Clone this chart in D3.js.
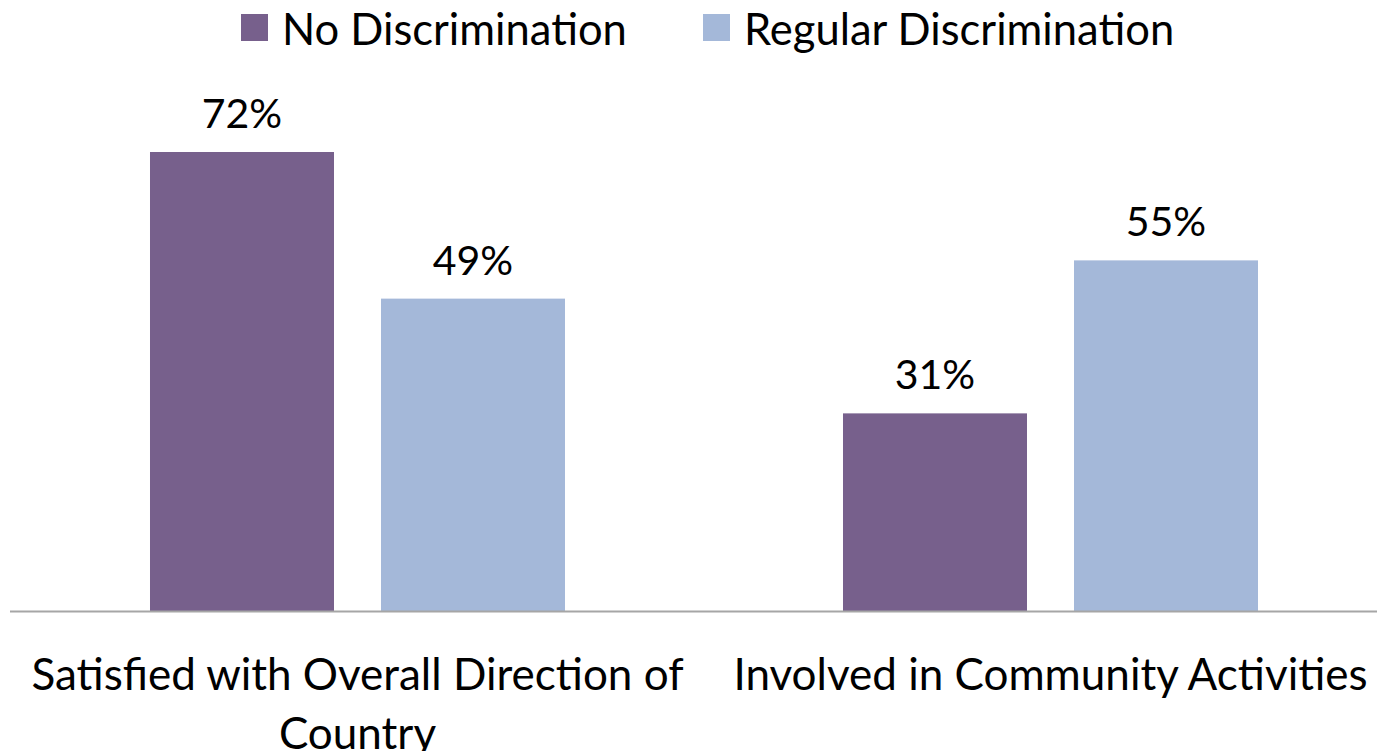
<!doctype html>
<html>
  <head>
    <meta charset="utf-8">
    <script src="https://cdnjs.cloudflare.com/ajax/libs/d3/7.8.5/d3.min.js"></script>
    <style>
      body { margin: 0; background: #fff; }
      svg { display: block; }
      text { font-family: Lato, "Open Sans", sans-serif; fill: #000; }
    </style>
  </head>
  <body>
    <svg id="chart" width="1377" height="751"></svg>
    <script>
      // chart data
      var categories = [["Satisfied with Overall Direction of", "Country"], ["Involved in Community Activities"]];
      var seriesNames = ["No Discrimination", "Regular Discrimination"];
      var noDiscrimination = [0.72, 0.31];
      var regularDiscrimination = [0.49, 0.55];
      var colors = ["#77608c", "#a4b8d9"];

      var svg = d3.select("#chart");
      var baseY = 611;

      var catKeys = categories.map(function(c, i) { return i; });
      var x0 = d3.scaleBand().domain(catKeys).range([11, 1397]);
      var x1 = d3.scaleBand().domain(seriesNames)
          .range([0, x0.bandwidth()])
          .paddingInner(0.2035)
          .paddingOuter(0.6017);
      var y = d3.scaleLinear().domain([0, 0.8]).range([baseY, 101]);

      var rows = catKeys.map(function(i) {
        return [
          { key: seriesNames[0], value: noDiscrimination[i], color: colors[0] },
          { key: seriesNames[1], value: regularDiscrimination[i], color: colors[1] }
        ];
      });

      var groups = svg.selectAll("g.group")
          .data(rows)
          .enter()
          .append("g")
          .attr("class", "group")
          .attr("transform", function(d, i) { return "translate(" + x0(i) + ",0)"; });

      groups.selectAll("rect")
          .data(function(d) { return d; })
          .enter()
          .append("rect")
          .attr("x", function(d) { return x1(d.key); })
          .attr("y", function(d) { return y(d.value); })
          .attr("width", x1.bandwidth())
          .attr("height", function(d) { return baseY - y(d.value); })
          .style("fill", function(d) { return d.color; });

      groups.selectAll("text.val")
          .data(function(d) { return d; })
          .enter()
          .append("text")
          .attr("class", "val")
          .attr("x", function(d) { return x1(d.key) + x1.bandwidth() / 2; })
          .attr("y", function(d) { return y(d.value) - 24; })
          .attr("text-anchor", "middle")
          .style("font-size", "41px")
          .text(function(d) { return Math.round(d.value * 100) + "%"; });

      // baseline
      svg.append("line")
          .attr("x1", 10).attr("x2", 1377)
          .attr("y1", baseY + 0.5).attr("y2", baseY + 0.5)
          .style("stroke", "#a6a6a6")
          .style("stroke-width", 2);

      // category labels
      svg.selectAll("text.cat")
          .data(categories)
          .enter()
          .append("text")
          .attr("class", "cat")
          .attr("text-anchor", "middle")
          .style("font-size", "44px")
          .each(function(lines, i) {
            var t = d3.select(this);
            lines.forEach(function(line, j) {
              t.append("tspan")
                  .attr("x", x0(i) + x0.bandwidth() / 2)
                  .attr("y", 690 + j * 59)
                  .text(line);
            });
          });

      // legend
      var legendX = [241, 703];
      var legend = svg.selectAll("g.legend")
          .data(seriesNames)
          .enter()
          .append("g")
          .attr("class", "legend")
          .attr("transform", function(d, i) { return "translate(" + legendX[i] + ",0)"; });

      legend.append("rect")
          .attr("x", 0).attr("y", 14)
          .attr("width", 27).attr("height", 27)
          .style("fill", function(d, i) { return colors[i]; });

      legend.append("text")
          .attr("x", 41).attr("y", 45)
          .style("font-size", "43.5px")
          .text(function(d) { return d; });
    </script>
  </body>
</html>
